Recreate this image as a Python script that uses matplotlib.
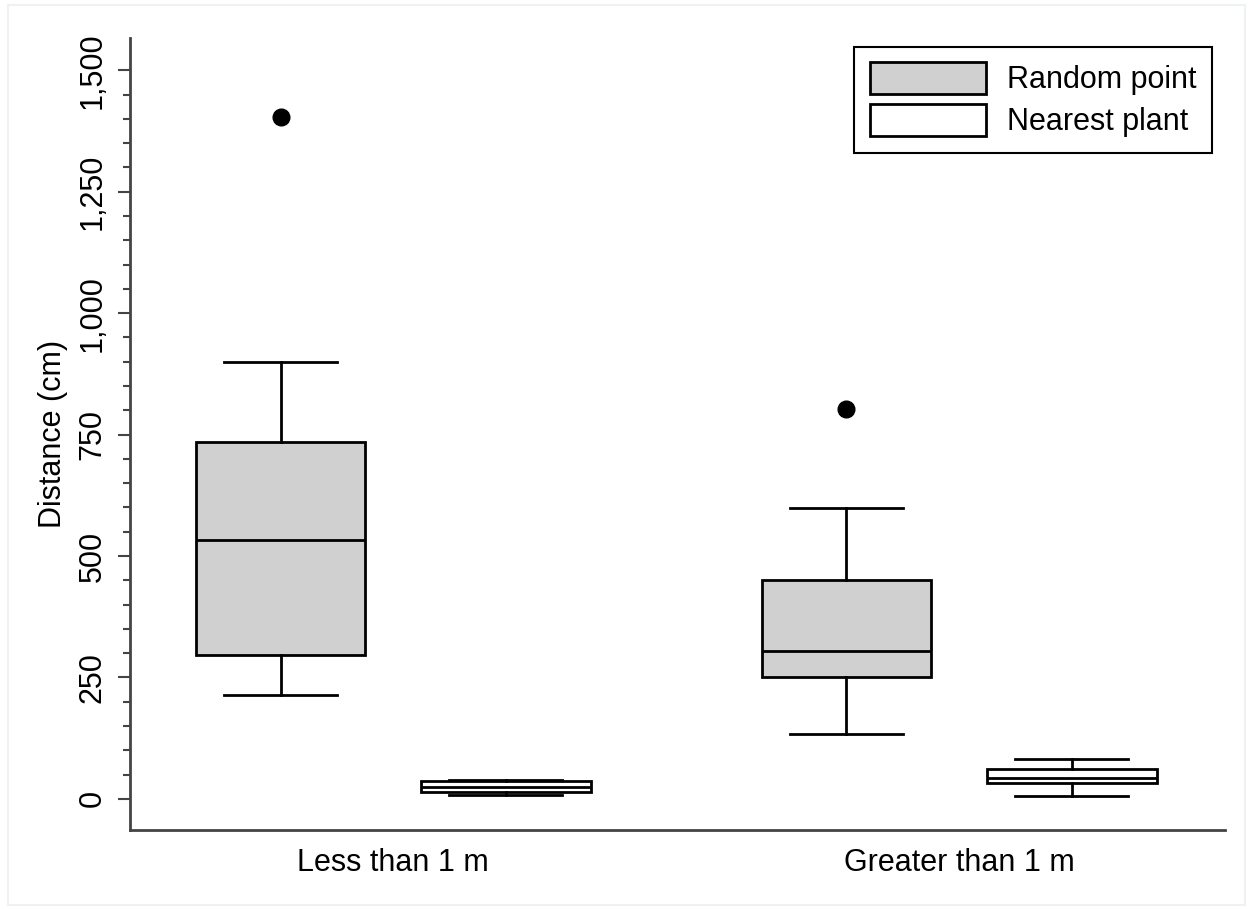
import matplotlib.pyplot as plt
from matplotlib.patches import Patch, Rectangle
from matplotlib.ticker import FuncFormatter, MultipleLocator, FixedLocator

plt.rcParams['font.family'] = ['Liberation Sans', 'DejaVu Sans']

# valores (cm)
groups = ["Less than 1 m", "Greater than 1 m"]
series = ["Random point", "Nearest plant"]
whislo = [[214, 8], [134, 6]]
q1 = [[296, 15], [251, 33]]
med = [[533, 25], [304, 43]]
q3 = [[735, 36], [450, 62]]
whishi = [[899, 38], [599, 82]]
fliers = [[[1403], []], [[802], []]]

fill = ["#d0d0d0", "white"]

fig = plt.figure(figsize=(12.5, 9.09), dpi=100)
ax = fig.add_axes([0.104, 0.0869, 0.876, 0.871])

offset = 0.199
lw = 2.0
for gi in range(len(groups)):
    for si in range(len(series)):
        st = [dict(whislo=whislo[gi][si], q1=q1[gi][si], med=med[gi][si],
                   q3=q3[gi][si], whishi=whishi[gi][si], fliers=fliers[gi][si])]
        pos = gi + 1 + (offset if si else -offset)
        ax.bxp(st, positions=[pos], widths=0.30, patch_artist=True,
               manage_ticks=False, capwidths=0.2,
               boxprops=dict(facecolor=fill[si], edgecolor="black", linewidth=lw),
               medianprops=dict(color="black", linewidth=lw),
               whiskerprops=dict(color="black", linewidth=lw),
               capprops=dict(color="black", linewidth=lw),
               flierprops=dict(marker="o", markerfacecolor="black",
                               markeredgecolor="black", markersize=12))

ax.set_xlim(0.535, 2.47)
ax.set_ylim(-64, 1566)
ax.set_xticks([1, 2])
ax.set_xticklabels(groups, fontsize=22)
ax.tick_params(axis="x", length=0, pad=13)
ax.yaxis.set_major_locator(MultipleLocator(250))
ax.yaxis.set_minor_locator(FixedLocator(range(0, 1501, 50)))
ax.yaxis.set_major_formatter(FuncFormatter(lambda v, p: f"{int(v):,}"))
ax.tick_params(axis="y", which="major", length=9, width=1.5, labelsize=22,
               color="#444444", pad=7)
ax.tick_params(axis="y", which="minor", length=5, width=1.5, color="#444444")
for lab in ax.get_yticklabels():
    lab.set_rotation(90)
    lab.set_va("center")
ax.set_ylabel("Distance (cm)", fontsize=22, labelpad=7)

for s in ["top", "right"]:
    ax.spines[s].set_visible(False)
for s in ["left", "bottom"]:
    ax.spines[s].set_linewidth(2)
    ax.spines[s].set_color("#444444")

handles = [Patch(facecolor=fill[i], edgecolor="black", linewidth=lw, label=series[i])
           for i in range(len(series))]
leg = ax.legend(handles=handles, loc="upper right", fontsize=22, fancybox=False,
                edgecolor="black", handlelength=3.8, handleheight=1.2,
                handletextpad=0.7, borderpad=0.5, labelspacing=0.3,
                bbox_to_anchor=(0.988, 0.989), borderaxespad=0, framealpha=1)
leg.get_frame().set_linewidth(1.5)

fig.patches.append(Rectangle((0.006, 0.004), 0.99, 0.99, transform=fig.transFigure,
                             fill=False, edgecolor="#eef2f2", linewidth=1.5))

fig.savefig("out.png", dpi=100)
